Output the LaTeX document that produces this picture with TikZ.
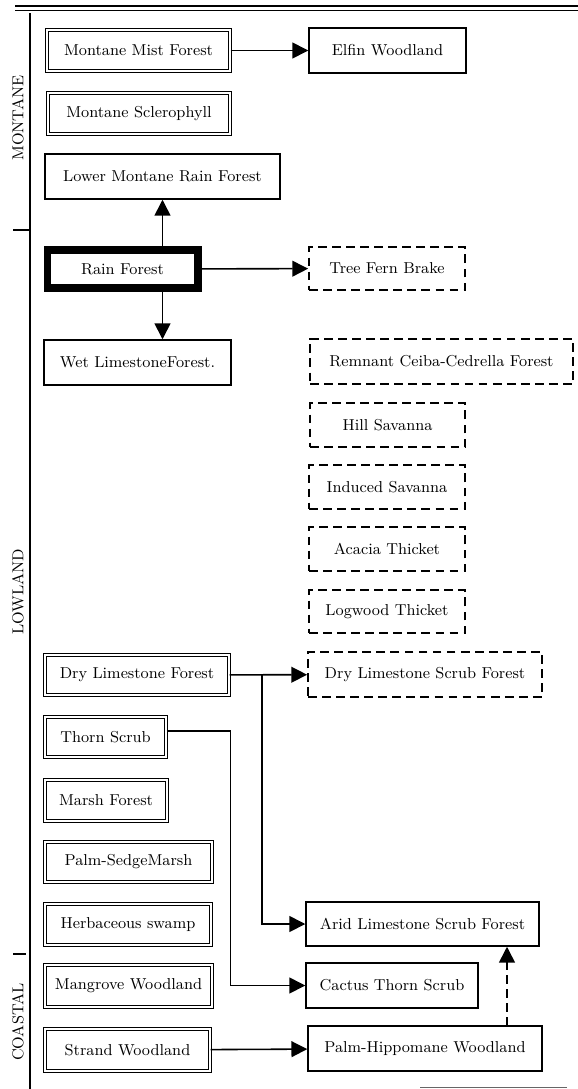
\documentclass[tikz,border=0pt]{standalone}
\usetikzlibrary{arrows.meta}

\begin{document}
\begin{tikzpicture}[
    x=0.02cm, y=-0.02cm,
    >={Triangle[length=9pt,width=9pt]},
    font=\fontsize{9}{11}\selectfont,
    base/.style={draw, align=center, inner sep=2pt},
    single/.style={base, line width=0.85pt},
    dbl/.style={base, line width=0.65pt, double, double distance=1.5pt},
    heavy/.style={base, line width=4pt},
    dashbox/.style={base, line width=1.05pt, dash pattern=on 5pt off 3pt},
    arrow/.style={->, line width=0.9pt},
    zone/.style={rotate=90}
  ]

    \useasboundingbox (0,0) rectangle (578,1089);

    % --- Frame ---
    \draw[line width=1.2pt] (15,6) -- (578,6);
    \draw[line width=0.5pt] (15,10) -- (578,10);
    \draw[line width=1.3pt] (30,13) -- (30,1089);
    \draw[line width=1pt] (13,230) -- (30,230);
    \draw[line width=1pt] (13,954) -- (26,954);
    \draw[line width=0.4pt, black!60] (420,1087) -- (567,1087);

    % --- Zones ---
    \node[zone] (montane) at (18,118) {MONTANE};
    \node[zone] (lowland) at (18,592) {LOWLAND};
    \node[zone] (coastal) at (18,1022) {COASTAL};

    % --- Montane ---
    \node[dbl, minimum width=3.66cm, minimum height=0.82cm] (mist) at (138.5,50.5) {Montane Mist Forest};
    \node[single, minimum width=3.14cm, minimum height=0.9cm] (elfin) at (387.5,50.5) {Elfin Woodland};
    \node[dbl, minimum width=3.64cm, minimum height=0.82cm] (scler) at (139,113.5) {Montane Sclerophyll};
    \node[single, minimum width=4.7cm, minimum height=0.9cm] (lmrf) at (162.5,176.5) {Lower Montane Rain Forest};

    % --- Rain forest ---
    \node[heavy, minimum width=3.02cm, minimum height=0.76cm] (rain) at (122.5,269) {Rain Forest};
    \node[dashbox, minimum width=3.12cm, minimum height=0.86cm] (tfb) at (387,268.5) {Tree Fern Brake};
    \node[single, minimum width=3.74cm, minimum height=0.9cm] (wetlf) at (137.5,362.5) {Wet LimestoneForest.};

    % --- Dashed column ---
    \node[dashbox, minimum width=5.26cm, minimum height=0.9cm] (remnant) at (441.5,361.5) {Remnant Ceiba-Cedrella Forest};
    \node[dashbox, minimum width=3.1cm, minimum height=0.88cm] (hill) at (387.5,425) {Hill Savanna};
    \node[dashbox, minimum width=3.12cm, minimum height=0.88cm] (induced) at (387,487) {Induced Savanna};
    \node[dashbox, minimum width=3.12cm, minimum height=0.88cm] (acacia) at (387,549) {Acacia Thicket};
    \node[dashbox, minimum width=3.12cm, minimum height=0.86cm] (logwood) at (387,611.5) {Logwood Thicket};
    \node[dashbox, minimum width=4.68cm, minimum height=0.9cm] (dlsf) at (425,674.5) {Dry Limestone Scrub Forest};

    % --- Lowland ---
    \node[dbl, minimum width=3.68cm, minimum height=0.8cm] (drylf) at (137,675) {Dry Limestone Forest};
    \node[dbl, minimum width=2.42cm, minimum height=0.8cm] (thorn) at (105.5,737) {Thorn Scrub};
    \node[dbl, minimum width=2.44cm, minimum height=0.82cm] (marsh) at (106,800.5) {Marsh Forest};
    \node[dbl, minimum width=3.34cm, minimum height=0.8cm] (palmsedge) at (128.5,862) {Palm-SedgeMarsh};
    \node[dbl, minimum width=3.32cm, minimum height=0.82cm] (herb) at (128,924.5) {Herbaceous swamp};

    % --- Coastal ---
    \node[dbl, minimum width=3.34cm, minimum height=0.84cm] (mangrove) at (128.5,986) {Mangrove Woodland};
    \node[dbl, minimum width=3.3cm, minimum height=0.84cm] (strand) at (127.5,1050) {Strand Woodland};

    % --- Right column, bottom ---
    \node[single, minimum width=4.66cm, minimum height=0.88cm] (arid) at (422.5,924) {Arid Limestone Scrub Forest};
    \node[single, minimum width=3.44cm, minimum height=0.9cm] (cactus) at (392,985.5) {Cactus Thorn Scrub};
    \node[single, minimum width=4.68cm, minimum height=0.9cm] (palmhip) at (425,1048.5) {Palm-Hippomane Woodland};

    % --- Connectors ---
    \draw[arrow] (mist) -- (elfin);
    \draw[arrow] (lmrf.south |- rain.north) -- (lmrf.south);
    \draw[arrow] (lmrf.south |- rain.south) -- (lmrf.south |- wetlf.north);
    \draw[arrow] (rain) -- (tfb);

    \draw[arrow] (drylf) -- (dlsf);
    \coordinate (split) at (262,675);
    \draw[arrow] (split) |- (arid.west);

    \draw[arrow] ([yshift=0.12cm]thorn.east) -- ++(64,0) |- (cactus.west);

    \draw[arrow] (strand) -- (palmhip);
    \coordinate (ph) at (507,1026);
    \draw[arrow, dash pattern=on 5pt off 3pt] (ph) -- (ph |- arid.south);

\end{tikzpicture}
\end{document}
